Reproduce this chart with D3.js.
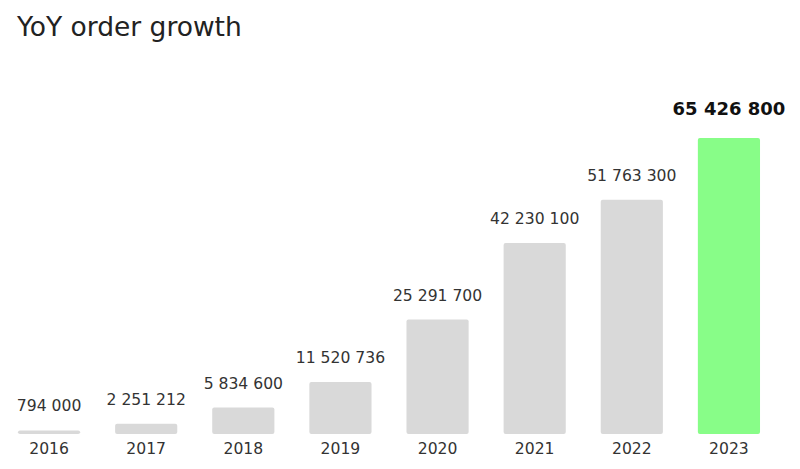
<!DOCTYPE html>
<html>
<head>
<meta charset="utf-8">
<script src="https://cdn.jsdelivr.net/npm/d3@7"></script>
<style>
	body { margin: 0; background: #fff; }
	svg { display: block; font-family: "DejaVu Sans", Verdana, sans-serif; }
</style>
</head>
<body>
<div id="chart"></div>
<script>
	// data
	var years = ['2016', '2017', '2018', '2019', '2020', '2021', '2022', '2023'];
	var orders = [794000, 2251212, 5834600, 11520736, 25291700, 42230100, 51763300, 65426800];
	var highlightYear = '2023';

	var width = 800;
	var height = 469;
	var baseline = 434;

	var fmt = function(v) { return d3.format(',')(v).replace(/,/g, ' '); };

	var svg = d3.select('#chart')
		.append('svg')
		.attr('width', width).attr('height', height);

	svg.append('text')
		.attr('x', 17).attr('y', 36)
		.attr('font-size', 26.5)
		.attr('fill', '#222')
		.text('YoY order growth');

	var x = d3.scaleBand()
		.domain(years)
		.range([0.5, 777.5])
		.paddingInner(0.36)
		.paddingOuter(0.18);

	var y = d3.scaleLinear()
		.domain([0, 65426800])
		.range([baseline, 138]);

	var data = years.map((d, i) => ({ year: d, value: orders[i] }));

	svg.selectAll('rect.bar')
		.data(data)
		.enter().append('rect')
		.attr('class', 'bar')
		.attr('x', d => x(d.year))
		.attr('y', d => y(d.value))
		.attr('width', x.bandwidth())
		.attr('height', d => Math.max(2, baseline - y(d.value)))
		.attr('rx', 2)
		.attr('fill', d => d.year === highlightYear ? '#88fd88' : '#d9d9d9');

	// value labels
	svg.selectAll('text.val')
		.data(data)
		.enter().append('text')
		.attr('class', 'val')
		.attr('x', d => x(d.year) + x.bandwidth() / 2)
		.attr('y', d => y(d.value) - (d.year === highlightYear ? 23 : 19))
		.attr('text-anchor', 'middle')
		.attr('font-size', d => d.year === highlightYear ? 18 : 15.6)
		.attr('font-weight', d => d.year === highlightYear ? 'bold' : 'normal')
		.attr('fill', d => d.year === highlightYear ? '#111' : '#333')
		.text(d => fmt(d.value));

	// x axis (labels only)
	var xAxis = svg.append('g')
		.attr('transform', 'translate(0,' + baseline + ')')
		.call(d3.axisBottom(x).tickSize(0).tickPadding(9));
	xAxis.select('.domain').remove();
	xAxis.selectAll('text')
		.attr('font-size', 15.6)
		.attr('font-family', '"DejaVu Sans", Verdana, sans-serif')
		.attr('fill', '#333');
</script>
</body>
</html>
